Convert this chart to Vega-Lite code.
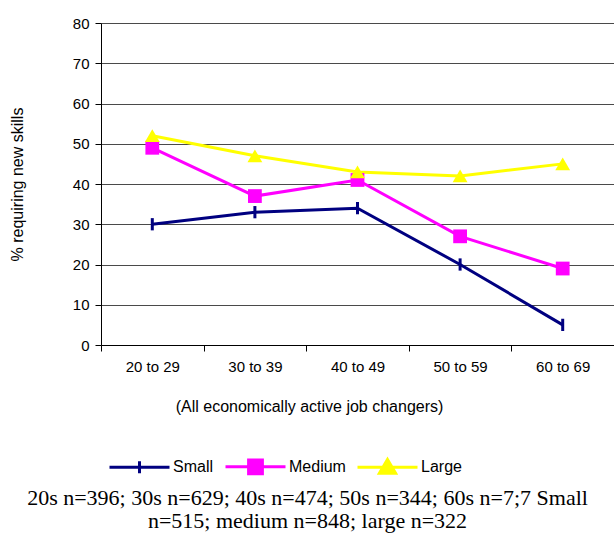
{
  "$schema": "https://vega.github.io/schema/vega-lite/v6.json",
  "width": 513,
  "height": 322,
  "autosize": {"type": "none"},
  "padding": {"left": 101, "top": 23, "right": 0, "bottom": 188},
  "background": "white",
  "config": {
    "view": {"stroke": null},
    "font": "Liberation Sans",
    "axis": {"labelFont": "Liberation Sans", "titleFont": "Liberation Sans", "labelColor": "black", "titleColor": "black", "titleFontWeight": "normal"},
    "legend": {"labelFont": "Liberation Sans", "labelColor": "black"}
  },
  "title": {
    "text": ["20s n=396; 30s n=629; 40s n=474; 50s n=344; 60s n=7;7 Small", "n=515; medium n=848; large n=322"],
    "orient": "bottom",
    "anchor": "middle",
    "dx": -50,
    "font": "Liberation Serif",
    "fontSize": 22,
    "fontWeight": "normal",
    "color": "black",
    "lineHeight": 23,
    "offset": 8
  },
  "data": {
    "values": [
      {"age": "20 to 29", "series": "Small", "pct": 30},
      {"age": "30 to 39", "series": "Small", "pct": 33},
      {"age": "40 to 49", "series": "Small", "pct": 34},
      {"age": "50 to 59", "series": "Small", "pct": 20},
      {"age": "60 to 69", "series": "Small", "pct": 5},
      {"age": "20 to 29", "series": "Medium", "pct": 49},
      {"age": "30 to 39", "series": "Medium", "pct": 37},
      {"age": "40 to 49", "series": "Medium", "pct": 41},
      {"age": "50 to 59", "series": "Medium", "pct": 27},
      {"age": "60 to 69", "series": "Medium", "pct": 19},
      {"age": "20 to 29", "series": "Large", "pct": 52},
      {"age": "30 to 39", "series": "Large", "pct": 47},
      {"age": "40 to 49", "series": "Large", "pct": 43},
      {"age": "50 to 59", "series": "Large", "pct": 42},
      {"age": "60 to 69", "series": "Large", "pct": 45}
    ]
  },
  "encoding": {
    "x": {
      "field": "age",
      "type": "nominal",
      "sort": ["20 to 29", "30 to 39", "40 to 49", "50 to 59", "60 to 69"],
      "scale": {"type": "band", "paddingInner": 0, "paddingOuter": 0},
      "axis": {
        "title": "(All economically active job changers)",
        "titleFontSize": 16,
        "titleX": 208,
        "titleY": 61,
        "titleBaseline": "middle",
        "titleAnchor": "middle",
        "labelAngle": 0,
        "labelFontSize": 15,
        "labelPadding": 8,
        "tickBand": "extent",
        "tickSize": 6,
        "tickColor": "black",
        "domainColor": "black",
        "grid": false
      }
    },
    "y": {
      "field": "pct",
      "type": "quantitative",
      "scale": {"domain": [0, 80], "nice": false},
      "axis": {
        "title": "% requiring new skills",
        "titleFontSize": 16,
        "titleX": -76,
        "titleY": 161,
        "titleAnchor": "middle",
        "values": [0, 10, 20, 30, 40, 50, 60, 70, 80],
        "labelFontSize": 15,
        "labelPadding": 6,
        "tickSize": 6,
        "tickColor": "black",
        "domainColor": "black",
        "grid": true,
        "gridColor": "#4a4a4a",
        "gridWidth": 1
      }
    }
  },
  "layer": [
    {
      "mark": {"type": "line", "strokeWidth": 3},
      "encoding": {
        "color": {
          "field": "series",
          "type": "nominal",
          "scale": {"domain": ["Small", "Medium", "Large"], "range": ["#000080", "#FF00FF", "#FFFF00"]},
          "legend": {
            "title": null,
            "orient": "none",
            "direction": "horizontal",
            "legendX": 7,
            "legendY": 412,
            "padding": 0,
            "symbolSize": 3600,
            "symbolStrokeWidth": 3,
            "labelFontSize": 16,
            "labelOffset": 2,
            "columnPadding": 5,
            "encode": {
              "symbols": {
                "update": {
                  "shape": {"signal": "datum.value === 'Small' ? 'M-1,0H1M0,-0.2V0.2' : datum.value === 'Medium' ? 'M-1,0H1M-0.23,-0.23H0.23V0.23H-0.23Z' : 'M-1,0H1M0,-0.26L0.27,0.2H-0.27Z'"},
                  "fill": {"signal": "scale('color', datum.value)"},
                  "strokeWidth": {"value": 3},
                  "size": {"value": 3600},
                  "opacity": {"value": 1}
                }
              }
            }
          }
        }
      }
    },
    {
      "transform": [{"filter": "datum.series === 'Small'"}],
      "mark": {"type": "point", "shape": "M0,-1V1", "filled": false, "size": 150, "stroke": "#000080", "strokeWidth": 3, "opacity": 1}
    },
    {
      "transform": [{"filter": "datum.series === 'Medium'"}],
      "mark": {"type": "point", "shape": "square", "filled": true, "size": 190, "color": "#FF00FF", "opacity": 1}
    },
    {
      "transform": [{"filter": "datum.series === 'Large'"}],
      "mark": {"type": "point", "shape": "triangle-up", "filled": true, "size": 220, "color": "#FFFF00", "opacity": 1}
    }
  ]
}
